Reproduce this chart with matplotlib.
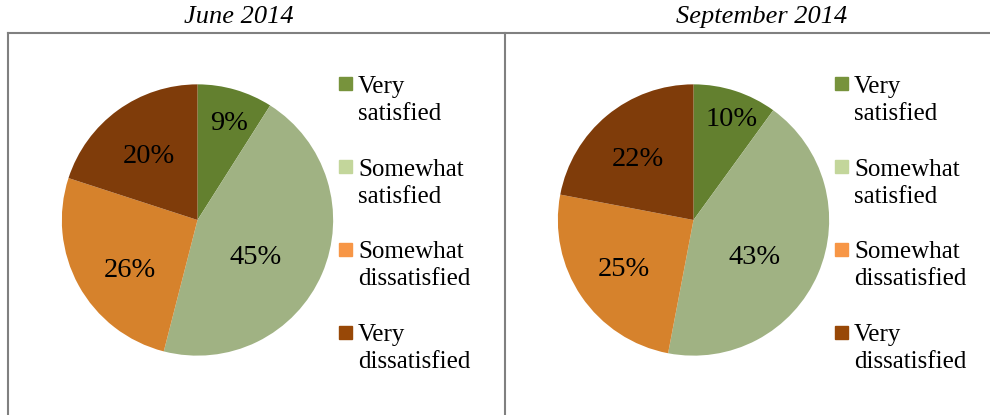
import numpy as np
import matplotlib.pyplot as plt
from matplotlib.patches import Rectangle
from matplotlib.lines import Line2D

plt.rcParams['font.family'] = ['Liberation Serif', 'DejaVu Serif']

# data
categories = ['Very\nsatisfied', 'Somewhat\nsatisfied', 'Somewhat\ndissatisfied', 'Very\ndissatisfied']
june_2014 = [9, 45, 26, 20]
sept_2014 = [10, 43, 25, 22]
titles = ['June 2014', 'September 2014']

wedge_colors = ['#63802F', '#A0B283', '#D6822C', '#7F3C0A']
legend_colors = ['#77933C', '#C3D69B', '#F79646', '#984807']

W, H = 990, 415
fig = plt.figure(figsize=(W / 100, H / 100), dpi=100)


def fx(x):
    return x / W


def fy(y):
    return 1 - y / H


# panel borders
border = '#808080'
fig.add_artist(Line2D([fx(8), fx(990)], [fy(33), fy(33)], color=border, lw=1.5))
fig.add_artist(Line2D([fx(8), fx(8)], [fy(33), fy(415)], color=border, lw=1.5))
fig.add_artist(Line2D([fx(505), fx(505)], [fy(33), fy(415)], color=border, lw=1.5))

# one pie per survey: values, centre x, title x, label distance, label angle shift
panels = [
    (june_2014, 197.5, 239, [0.75, 0.51, 0.62, 0.59], [-2, -9, 8, 1]),
    (sept_2014, 693.5, 762, [0.79, 0.53, 0.63, 0.61], [-3, -8, 1, 3]),
]
r = 137
for k, (vals, cx, tx, dists, shifts) in enumerate(panels):
    cy = 220
    ax = fig.add_axes([fx(cx - r), fy(cy + r), 2 * r / W, 2 * r / H])
    wedges, _ = ax.pie(vals, colors=wedge_colors, startangle=90, counterclock=False,
                       radius=1, wedgeprops=dict(linewidth=0))
    ax.set_xlim(-1.01, 1.01)
    ax.set_ylim(-1.01, 1.01)
    for w, v, d, s in zip(wedges, vals, dists, shifts):
        mid = np.deg2rad((w.theta1 + w.theta2) / 2 + s)
        ax.text(d * np.cos(mid), d * np.sin(mid), f'{v}%', ha='center', va='center',
                fontsize=20.5, color='black')

    fig.text(fx(tx), fy(17), titles[k], ha='center', va='center', fontsize=19,
             style='italic', color='black')

    # legend
    off = cx - 197.5
    for i, (lab, col) in enumerate(zip(categories, legend_colors)):
        sq = 84 + 82.7 * i
        fig.add_artist(Rectangle((fx(339 + off), fy(sq + 6.5)), 13 / W, 13 / H,
                                 color=col, transform=fig.transFigure))
        for j, line in enumerate(lab.split('\n')):
            fig.text(fx(358 + off), fy(sq + 9 + 27 * j), line, ha='left', va='baseline',
                     fontsize=18, color='black')

fig.savefig('out.png', dpi=100)
